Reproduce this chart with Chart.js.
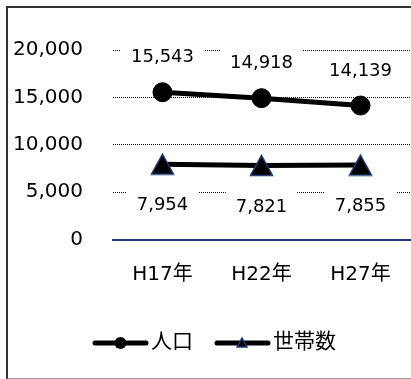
<!DOCTYPE html>
<html>
<head>
<meta charset="utf-8">
<script src="https://cdn.jsdelivr.net/npm/chart.js@4"></script>
<style>
    html, body { margin: 0; padding: 0; background: #fff; overflow: hidden; }
    body { width: 411px; height: 379px; position: relative; }
    #frame {
        position: absolute; left: 6px; top: 6px; width: 430px; height: 374px;
        box-sizing: border-box; border: 2px solid #333; border-bottom-color: #999;
    }
    #chart { position: absolute; left: 0; top: 0; }
</style>
</head>
<body>
<div id="frame"></div>
<canvas id="chart" width="427" height="379"></canvas>
<script>
// Chart data
const categories = ['H17年', 'H22年', 'H27年'];
const population = [15543, 14918, 14139];
const households = [7954, 7821, 7855];
const seriesNames = ['人口', '世帯数'];
const yTickLabels = ['0', '5,000', '10,000', '15,000', '20,000'];

const FONT = '"DejaVu Sans", "Noto Sans CJK JP", sans-serif';
const NAVY = '#1F3A70';

// Triangle marker as an image so it is centred on its bounding box
function makeTriangle(w, h, lw) {
    const c = document.createElement('canvas');
    c.width = w; c.height = h;
    const g = c.getContext('2d');
    g.beginPath();
    g.moveTo(w / 2, lw);
    g.lineTo(w - lw, h - lw);
    g.lineTo(lw, h - lw);
    g.closePath();
    g.fillStyle = '#000';
    g.fill();
    g.lineWidth = lw;
    g.strokeStyle = NAVY;
    g.lineJoin = 'miter';
    g.stroke();
    return c;
}
const triangleImg = makeTriangle(25, 23, 1.5);

// Value labels with white boxes over the grid
const valueLabels = {
    id: 'valueLabels',
    beforeDatasetsDraw(chart) {
        const ctx = chart.ctx;
        ctx.save();
        ctx.font = '18px ' + FONT;
        ctx.textAlign = 'center';
        ctx.textBaseline = 'middle';
        chart.data.datasets.forEach((ds, di) => {
            const meta = chart.getDatasetMeta(di);
            meta.data.forEach((pt, i) => {
                const text = ds.data[i].toLocaleString('en-US');
                const y = di === 0 ? pt.y - 35.5 : pt.y + 40.5;
                const w = ctx.measureText(text).width + 20;
                ctx.fillStyle = '#fff';
                ctx.fillRect(pt.x - w / 2, y - 14, w, 28);
                ctx.fillStyle = '#000';
                ctx.fillText(text, pt.x, y + 1);
            });
        });
        ctx.restore();
    }
};

// Legend with line + marker samples
const lineLegend = {
    id: 'lineLegend',
    afterDraw(chart) {
        const ctx = chart.ctx;
        const y = 343;
        ctx.save();
        ctx.strokeStyle = '#000';
        ctx.lineWidth = 5;
        ctx.lineCap = 'round';
        ctx.beginPath();
        ctx.moveTo(95, y); ctx.lineTo(146, y);
        ctx.moveTo(217, y); ctx.lineTo(268, y);
        ctx.stroke();
        ctx.fillStyle = '#000';
        ctx.beginPath();
        ctx.arc(120.5, y, 6, 0, Math.PI * 2);
        ctx.fill();
        ctx.beginPath();
        ctx.moveTo(242, y - 5);
        ctx.lineTo(247, y + 4);
        ctx.lineTo(237, y + 4);
        ctx.closePath();
        ctx.fillStyle = '#000';
        ctx.fill();
        ctx.lineWidth = 1.5;
        ctx.lineCap = 'butt';
        ctx.strokeStyle = NAVY;
        ctx.stroke();
        ctx.font = '21px ' + FONT;
        ctx.textBaseline = 'middle';
        ctx.textAlign = 'left';
        ctx.fillStyle = '#000';
        ctx.fillText(seriesNames[0], 151, y);
        ctx.fillText(seriesNames[1], 273, y);
        ctx.restore();
    }
};

new Chart(document.getElementById('chart'), {
    type: 'line',
    data: {
        labels: categories,
        datasets: [{
            label: seriesNames[0],
            data: population,
            borderColor: '#000',
            borderWidth: 5,
            pointStyle: 'circle',
            pointRadius: 9.5,
            pointBackgroundColor: '#000',
            pointBorderColor: '#000',
            pointBorderWidth: 1,
            tension: 0
        }, {
            label: seriesNames[1],
            data: households,
            borderColor: '#000',
            borderWidth: 5,
            pointStyle: triangleImg,
            pointRadius: 12,
            tension: 0
        }]
    },
    options: {
        responsive: false,
        animation: false,
        events: [],
        layout: {
            padding: { left: 0, top: 50, right: 2.5, bottom: 89.5 }
        },
        plugins: {
            legend: { display: false },
            tooltip: { enabled: false }
        },
        scales: {
            x: {
                offset: true,
                grid: { display: false, drawTicks: false },
                border: { display: true, color: NAVY, width: 2 },
                ticks: {
                    color: '#000',
                    padding: 23,
                    font: { family: FONT, size: 20 }
                },
                afterFit(scale) { scale.height = 50; }
            },
            y: {
                min: 0,
                max: 20000,
                grid: {
                    drawTicks: false,
                    lineWidth: 1,
                    color: (c) => c.tick && c.tick.value === 0 ? 'rgba(0,0,0,0)' : '#000'
                },
                border: { display: false, dash: [1, 1] },
                ticks: {
                    stepSize: 5000,
                    padding: 30,
                    color: '#000',
                    font: { family: FONT, size: 20 },
                    callback: (v, i) => yTickLabels[i]
                },
                afterFit(scale) { scale.width = 113; }
            }
        }
    },
    plugins: [valueLabels, lineLegend]
});
</script>
</body>
</html>
